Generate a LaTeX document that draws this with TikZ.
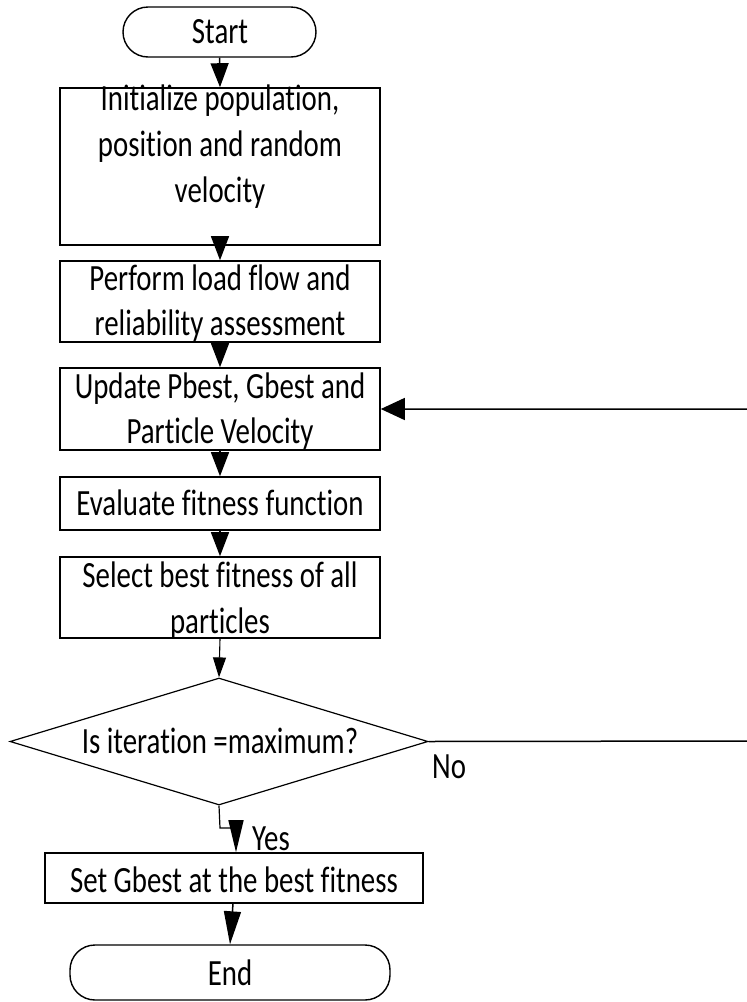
\documentclass[tikz,border=0pt]{standalone}
\usepackage{fontspec}
\setmainfont{Carlito}[FakeStretch=0.78,Ligatures=NoCommon]
\usetikzlibrary{arrows.meta,shapes.geometric,calc}
\begin{document}
\begin{tikzpicture}[x=1pt,y=-1pt,
  every node/.style={font=\fontsize{37}{44}\selectfont},
  procbox/.style={draw,line width=1.6pt,rectangle,inner sep=0pt,minimum width=320pt},
  termbox/.style={draw,line width=1.4pt,rectangle,rounded corners=25pt,inner sep=0pt},
  decbox/.style={draw,line width=1.2pt,diamond,inner sep=0pt},
  txt/.style={anchor=base,inner sep=0pt},
  bigarrow/.style={line width=1.5pt,-{Triangle[length=24pt,width=18pt]}},
  thinarrow/.style={line width=1.1pt,-{Triangle[length=20pt,width=13pt]}},
  thinline/.style={line width=1.2pt}]
\useasboundingbox[fill=white] (0,0) rectangle (747,1002);

% terminals
\node[termbox,minimum width=193pt,minimum height=50pt] (start) at (219.5,32) {};
\node[txt] (tstart) at (220,43) {Start};
\node[termbox,minimum width=320pt,minimum height=55pt] (end) at (230,972.5) {};
\node[txt] (tend) at (230,985) {End};

% process boxes
\node[procbox,minimum height=157pt] (b1) at (220,166.5) {};
\node[txt] (b1a) at (220,110) {Initialize population,};
\node[txt] (b1b) at (220,156) {position and random};
\node[txt] (b1c) at (220,202) {velocity};

\node[procbox,minimum height=81pt] (b2) at (220,301.5) {};
\node[txt] (b2a) at (220,290) {Perform load flow and};
\node[txt] (b2b) at (220,335) {reliability assessment};

\node[procbox,minimum height=82pt] (b3) at (220,409) {};
\node[txt] (b3a) at (220,398) {Update Pbest, Gbest and};
\node[txt] (b3b) at (220,443) {Particle Velocity};

\node[procbox,minimum height=53pt] (b4) at (220,503.5) {};
\node[txt] (b4a) at (220,515) {Evaluate fitness function};

\node[procbox,minimum height=81pt] (b5) at (220,597.5) {};
\node[txt] (b5a) at (220,587) {Select best fitness of all};
\node[txt] (b5b) at (220,633) {particles};

% decision
\node[decbox,minimum width=418pt,minimum height=127pt] (dia) at (219,741.5) {};
\node[txt] (tdia) at (220,753) {Is iteration =maximum?};

\node[procbox,minimum width=378pt,minimum height=50pt] (b6) at (234,878) {};
\node[txt] (b6a) at (234,892) {Set Gbest at the best fitness};

% branch labels
\node[txt,anchor=base west] (lno) at (432,778) {No};
\node[txt,anchor=base west] (lyes) at (252,850) {Yes};

% connectors
\draw[bigarrow] (start.south) -- (b1.north);
\draw[bigarrow] (b1.south) -- (b2.north);
\draw[bigarrow] (b2.south) -- (b3.north);
\draw[bigarrow] (b3.south) -- (b4.north);
\draw[bigarrow] (b4.south) -- (b5.north);
\draw[thinarrow] (b5.south) -- (dia.north);

\coordinate (ybend) at (220,828);
\coordinate (yhead) at (236,821);
\draw[thinline] (dia.south) -- (ybend) -- (232,828);
\draw[bigarrow,-{Triangle[length=32pt,width=15pt]}] (yhead) -- (yhead |- b6.north);

\draw[bigarrow,-{Triangle[length=33pt,width=17pt]}] ($(b6.south)+(-1,0)$) -- (end.north);

% loop back on the No branch
\coordinate (loopA) at (760,741);
\coordinate (loopB) at (760,409);
\draw[line width=1.5pt,-{Triangle[length=24pt,width=22pt]}] (dia.east) -- (loopA) -- (loopB) -- (b3.east);
\end{tikzpicture}
\end{document}
